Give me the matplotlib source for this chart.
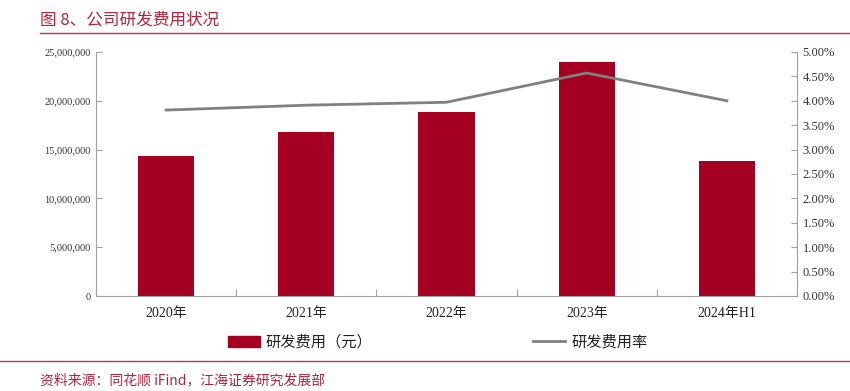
import matplotlib.pyplot as plt
from matplotlib.ticker import FuncFormatter, MultipleLocator
from matplotlib.lines import Line2D
from matplotlib.patches import Patch

# data
years = ['2020年', '2021年', '2022年', '2023年', '2024年H1']
rd_cost = [14340000, 16800000, 18850000, 23980000, 13830000]
rd_rate = [3.81, 3.91, 3.97, 4.57, 4.00]

bar_color = '#A50021'
line_color = '#808080'
red = '#B0243C'
serif = ['Liberation Serif', 'Noto Sans CJK SC']
cjk = ['Noto Sans CJK SC', 'DejaVu Sans']

fig = plt.figure(figsize=(8.5, 3.91), dpi=100)
ax1 = fig.add_axes([96/850, 1-296/391, (797-96)/850, (296-52)/391])
ax2 = ax1.twinx()

x = list(range(len(years)))
ax1.bar(x, rd_cost, width=0.4, color=bar_color, zorder=2)
ax2.plot(x, rd_rate, color=line_color, lw=2, zorder=3)

ax1.set_xlim(-0.5, 4.5)
ax1.set_ylim(0, 25000000)
ax2.set_ylim(0, 5)
ax1.yaxis.set_major_locator(MultipleLocator(5000000))
ax2.yaxis.set_major_locator(MultipleLocator(0.5))
ax1.yaxis.set_major_formatter(FuncFormatter(lambda v, p: f'{int(v):,}'))
ax2.yaxis.set_major_formatter(FuncFormatter(lambda v, p: f'{v:.2f}%'))

ax1.set_xticks([i + 0.5 for i in range(-1, 5)], minor=False)
ax1.set_xticklabels([])
ax1.set_xticks(x, minor=True)
ax1.set_xticklabels(years, minor=True)
ax1.tick_params(axis='x', which='minor', length=0, pad=8)
ax1.tick_params(axis='x', which='major', direction='in', length=5, color='#A0A0A0')

for ax in (ax1, ax2):
    ax.spines['top'].set_visible(False)
    for s in ('left', 'right', 'bottom'):
        ax.spines[s].set_color('#A0A0A0')
ax2.spines['left'].set_visible(False)
ax2.spines['bottom'].set_visible(False)
ax1.spines['right'].set_visible(False)

ax1.tick_params(axis='y', direction='in', length=4, color='#A0A0A0', pad=4)
ax2.tick_params(axis='y', direction='in', length=4, color='#A0A0A0', pad=4)

for lab in ax1.get_yticklabels():
    lab.set_family(serif); lab.set_fontsize(7.5); lab.set_color('#333333')
for lab in ax2.get_yticklabels():
    lab.set_family(serif); lab.set_fontsize(9); lab.set_color('#333333')
for lab in ax1.get_xticklabels(minor=True):
    lab.set_family(serif); lab.set_fontsize(10); lab.set_color('#222222')

handles = [Patch(color=bar_color), Line2D([], [], color=line_color, lw=2)]
leg = fig.legend(handles, ['研发费用（元）', '研发费用率'], loc='center',
                 bbox_to_anchor=(0.515, 1-342/391), ncol=2, frameon=False,
                 prop={'family': cjk, 'size': 11}, columnspacing=10.5,
                 handlelength=2.1, handleheight=0.7, handletextpad=0.4)
for t in leg.get_texts():
    t.set_color('#222222')

fig.text(40/850, 1-20/391, '图 8、公司研发费用状况', family=cjk, fontsize=12,
         color=red, va='center', ha='left')
fig.add_artist(Line2D([40/850, 1], [1-33/391, 1-33/391], color='#C8323C', lw=1))
fig.add_artist(Line2D([0, 1], [1-361/391, 1-361/391], color='#C8323C', lw=1))
fig.text(40/850, 1-380/391, '资料来源：同花顺 iFind，江海证券研究发展部', family=cjk,
         fontsize=10, color=red, va='center', ha='left')

fig.savefig('out.png', dpi=100)
